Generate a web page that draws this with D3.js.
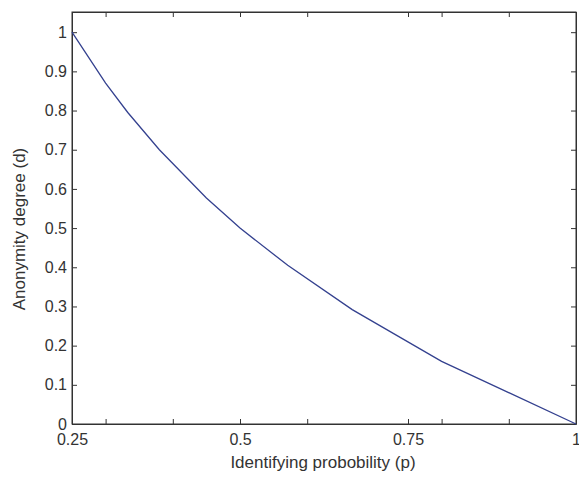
<!DOCTYPE html>
<html>
<head>
<meta charset="utf-8">
<script src="https://cdn.jsdelivr.net/npm/d3@7"></script>
<style>
  body { margin: 0; background: #fff; }
  text { font-family: "Liberation Sans", Arial, sans-serif; fill: #333; }
</style>
</head>
<body>
<div id="chart"></div>
<script>
// values
const probability = [0.25, 0.3, 0.333, 0.38, 0.45, 0.5, 0.571, 0.667, 0.8, 1];
const anonymity = [1.0, 0.87, 0.795, 0.70, 0.577, 0.50, 0.405, 0.292, 0.16, 0];

const xTicks = [0.25, 0.3, 0.4, 0.5, 0.6, 0.75, 0.8, 0.9, 1];
const xTickLabels = [0.25, 0.5, 0.75, 1];
const yTicks = [0, 0.1, 0.2, 0.3, 0.4, 0.5, 0.6, 0.7, 0.8, 0.9, 1];

const width = 579;
const height = 477;
const margin = { top: 12, right: 3, bottom: 53, left: 72 };

const svg = d3.select("#chart").append("svg")
    .attr("width", width)
    .attr("height", height);

const x = d3.scaleLinear()
    .domain([0.25, 1])
    .range([margin.left, width - margin.right]);

const y = d3.scaleLinear()
    .domain([0, 1.0515])
    .range([height - margin.bottom, margin.top]);

const fmt = d => (xTickLabels.includes(d) ? String(d) : "");

// bottom axis
svg.append("g")
    .attr("transform", `translate(0,${y(0)})`)
    .call(d3.axisBottom(x).tickValues(xTicks).tickFormat(fmt).tickSizeInner(-5).tickSizeOuter(0).tickPadding(10))
    .call(g => g.selectAll("text").attr("font-size", 16).attr("fill", "#333"));

// top axis (ticks only)
svg.append("g")
    .attr("transform", `translate(0,${margin.top})`)
    .call(d3.axisTop(x).tickValues(xTicks).tickFormat("").tickSizeInner(-5).tickSizeOuter(0));

// left axis
svg.append("g")
    .attr("transform", `translate(${margin.left},0)`)
    .call(d3.axisLeft(y).tickValues(yTicks).tickFormat(d => String(d)).tickSizeInner(-5).tickSizeOuter(0).tickPadding(5))
    .call(g => g.selectAll("text").attr("font-size", 16).attr("fill", "#333"));

// right axis (ticks only)
svg.append("g")
    .attr("transform", `translate(${width - margin.right},0)`)
    .call(d3.axisRight(y).tickValues(yTicks).tickFormat("").tickSizeInner(-5).tickSizeOuter(0));

svg.selectAll(".domain, .tick line").attr("stroke", "#333");
svg.selectAll(".tick text").attr("font-family", "Liberation Sans, Arial, sans-serif");

// box
svg.append("rect")
    .attr("x", margin.left)
    .attr("y", margin.top)
    .attr("width", width - margin.right - margin.left)
    .attr("height", y(0) - margin.top)
    .attr("fill", "none")
    .attr("stroke", "#333");

// curve
const line = d3.line()
    .x((d, i) => x(probability[i]))
    .y(d => y(d));

svg.append("path")
    .datum(anonymity)
    .attr("d", line)
    .attr("fill", "none")
    .attr("stroke", "#34418f")
    .attr("stroke-width", 1.3);

// axis titles
svg.append("text")
    .attr("x", 323)
    .attr("y", 468)
    .attr("text-anchor", "middle")
    .attr("font-size", 17)
    .text("Identifying probobility (p)");

svg.append("text")
    .attr("transform", "translate(25,229) rotate(-90)")
    .attr("text-anchor", "middle")
    .attr("font-size", 17)
    .text("Anonymity degree (d)");
</script>
</body>
</html>
